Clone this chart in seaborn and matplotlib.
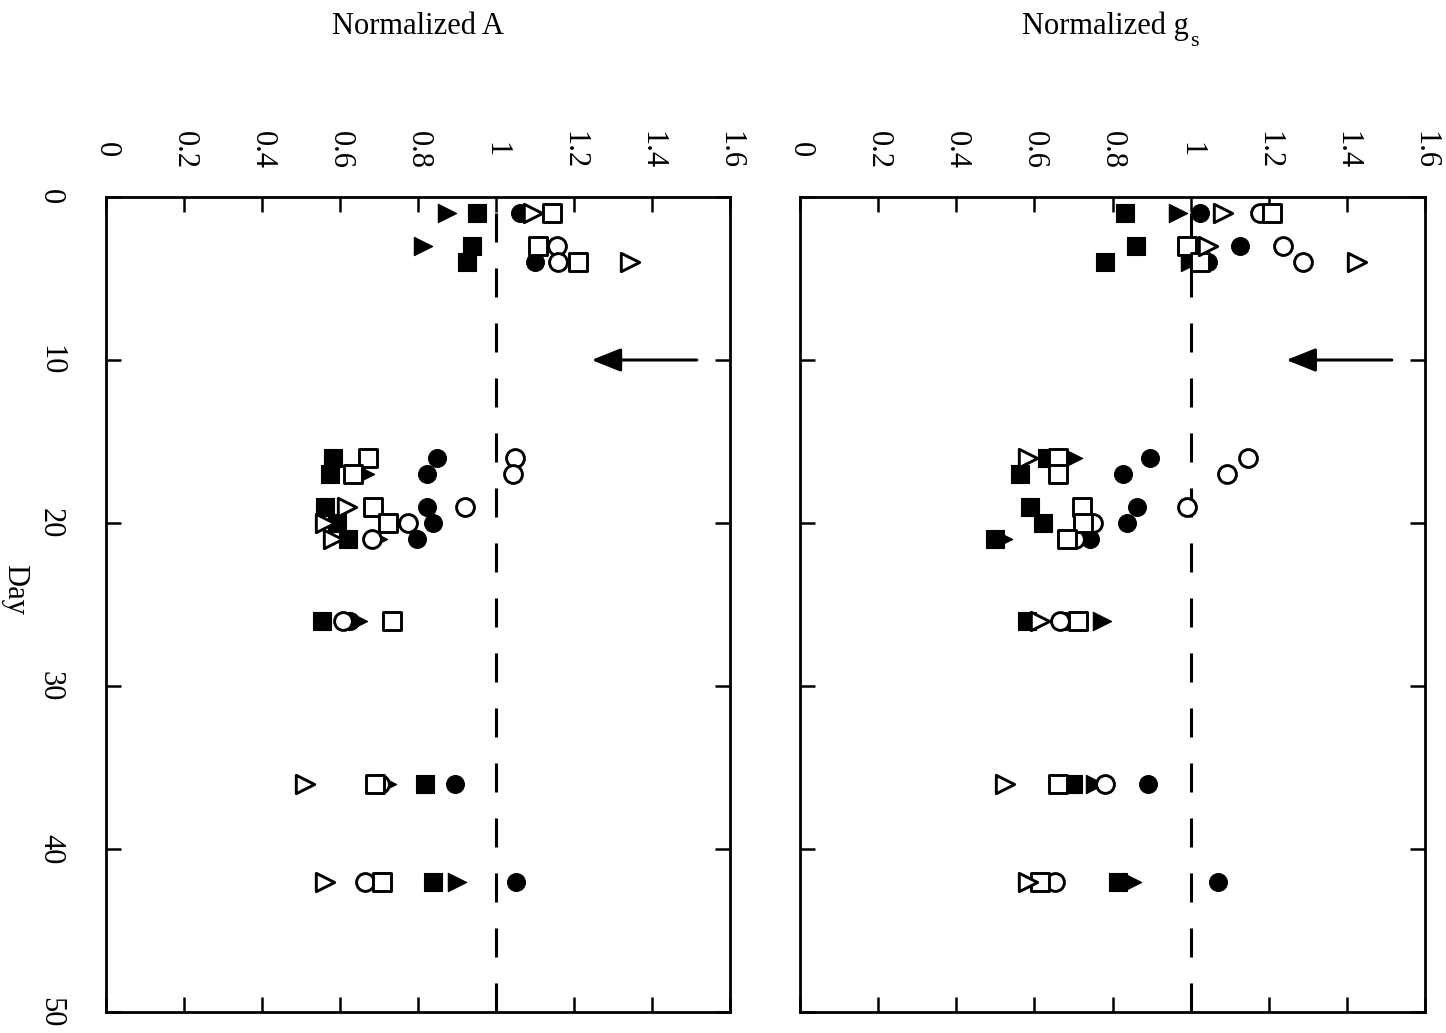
import numpy as np
import pandas as pd
import matplotlib
matplotlib.use("Agg")
import matplotlib.pyplot as plt
import seaborn as sns

nan = np.nan

# ---------------- data ----------------
days = [1, 3, 4, 16, 17, 19, 20, 21, 26, 36, 42]

A_filled_circle = [1.062, nan, 1.100, 0.849, 0.823, 0.823, 0.838, 0.797, 0.626, 0.895, 1.051]
A_open_circle = [nan, 1.156, 1.159, 1.049, 1.044, 0.921, 0.774, 0.682, 0.608, 0.703, 0.664]
A_filled_square = [0.951, 0.938, 0.926, 0.582, 0.574, 0.562, 0.592, 0.621, 0.554, 0.818, 0.838]
A_open_square = [1.144, 1.108, 1.210, 0.672, 0.633, 0.685, 0.723, nan, 0.733, 0.690, 0.708]
A_filled_tri = [0.874, 0.813, nan, nan, 0.664, nan, nan, 0.697, 0.646, 0.720, 0.900]
A_open_tri = [1.095, nan, 1.344, nan, nan, 0.618, 0.562, 0.582, nan, 0.510, 0.562]

G_filled_circle = [1.024, 1.126, 1.045, 0.896, 0.827, 0.863, 0.837, 0.742, 0.678, 0.891, 1.070]
G_open_circle = [1.178, 1.237, 1.288, 1.147, 1.093, 0.991, 0.750, 0.704, 0.666, 0.781, 0.653]
G_filled_square = [0.832, 0.860, 0.781, 0.632, 0.563, 0.589, 0.622, 0.499, 0.581, 0.699, 0.814]
G_open_square = [1.208, 0.991, 1.024, 0.661, 0.661, 0.722, 0.725, 0.684, 0.712, 0.661, 0.614]
G_filled_tri = [0.968, nan, 0.998, 0.699, nan, nan, nan, 0.520, 0.773, 0.755, 0.850]
G_open_tri = [1.083, 1.045, 1.426, 0.584, nan, nan, nan, nan, 0.614, 0.525, 0.584]

value_ticks = [0, 0.2, 0.4, 0.6, 0.8, 1.0, 1.2, 1.4, 1.6]
value_tick_labels = ["0", "0.2", "0.4", "0.6", "0.8", "1", "1.2", "1.4", "1.6"]
day_ticks = [0, 10, 20, 30, 40, 50]
day_tick_labels = ["0", "10", "20", "30", "40", "50"]
treatment_day = 10
reference_level = 1.0

# (series key, marker, filled)
series_styles = [
    ("filled_circle", "o", True),
    ("filled_square", "s", True),
    ("filled_tri", ">", True),
    ("open_circle", "o", False),
    ("open_square", "s", False),
    ("open_tri", ">", False),
]

panel_A = {
    "filled_circle": A_filled_circle, "open_circle": A_open_circle,
    "filled_square": A_filled_square, "open_square": A_open_square,
    "filled_tri": A_filled_tri, "open_tri": A_open_tri,
}
panel_G = {
    "filled_circle": G_filled_circle, "open_circle": G_open_circle,
    "filled_square": G_filled_square, "open_square": G_open_square,
    "filled_tri": G_filled_tri, "open_tri": G_open_tri,
}


def long_frame(panel):
    rows = []
    for key, vals in panel.items():
        for d, v in zip(days, vals):
            if not np.isnan(v):
                rows.append({"day": d, "value": v, "series": key})
    return pd.DataFrame(rows)


# ---------------- style ----------------
sns.set_style("white")
plt.rcParams["font.family"] = ["Liberation Serif", "DejaVu Serif"]
plt.rcParams["mathtext.fontset"] = "custom"
plt.rcParams["mathtext.rm"] = "Liberation Serif"
plt.rcParams["mathtext.it"] = "Liberation Serif:italic"
plt.rcParams["text.color"] = "black"
plt.rcParams["xtick.color"] = "black"
plt.rcParams["ytick.color"] = "black"
plt.rcParams["axes.labelcolor"] = "black"

W, H = 1446, 1033
fig = plt.figure(figsize=(W / 100, H / 100), dpi=100)
fig.patch.set_facecolor("white")

ax_bottom = 1 - 1012 / H
ax_height = 815 / H
axA = fig.add_axes([106 / W, ax_bottom, 624 / W, ax_height])
axG = fig.add_axes([800 / W, ax_bottom, 625 / W, ax_height])

FS = 22


def draw_panel(ax, panel, show_day_labels):
    df = long_frame(panel)
    ax.axvline(reference_level, color="black", lw=2.2, ls=(0, (9.5, 8.5)), zorder=1)
    for key, marker, filled in series_styles:
        sub = df[df["series"] == key]
        if sub.empty:
            continue
        size = 165 if marker != ">" else 175
        sns.scatterplot(
            data=sub, x="value", y="day", marker=marker, s=size,
            color="black" if filled else "white", edgecolor="black",
            linewidth=2.1 if not filled else 0.8, ax=ax, zorder=3, legend=False,
        )
    ax.annotate("", xy=(1.245, treatment_day), xytext=(1.515, treatment_day),
                arrowprops=dict(arrowstyle="-|>,head_length=0.9,head_width=0.36",
                                lw=2.2, color="black", mutation_scale=20,
                                shrinkA=0, shrinkB=0), zorder=4)
    ax.set_xlim(0, 1.6)
    ax.set_ylim(50, 0)
    ax.set_xlabel("")
    ax.set_ylabel("")
    ax.set_xticks(value_ticks)
    ax.set_xticklabels(value_tick_labels)
    ax.set_yticks(day_ticks)
    ax.set_yticklabels(day_tick_labels)
    ax.tick_params(axis="x", top=True, bottom=True, labeltop=True, labelbottom=False,
                   direction="in", length=11, width=1.8, pad=34, labelsize=FS,
                   labelrotation=-90, color="black", labelcolor="black")
    ax.tick_params(axis="y", left=True, right=True, labelleft=show_day_labels,
                   labelright=False, direction="in", length=11, width=1.8,
                   pad=40, labelsize=FS, labelrotation=-90, color="black",
                   labelcolor="black")
    for lbl in ax.get_xticklabels():
        lbl.set_va("center")
        lbl.set_ha("center")
    for lbl in ax.get_yticklabels():
        lbl.set_va("center")
        lbl.set_ha("center")
    for sp in ax.spines.values():
        sp.set_visible(True)
        sp.set_color("black")
        sp.set_linewidth(2.0)


draw_panel(axA, panel_A, True)
draw_panel(axG, panel_G, False)

fig.text(418 / W, 1 - 26 / H, "Normalized A", ha="center", va="center", fontsize=FS,
         color="black")
fig.text(1105 / W, 1 - 26 / H, "Normalized g", ha="center", va="center", fontsize=FS,
         color="black")
fig.text(1190 / W, 1 - 42 / H, "s", ha="left", va="center", fontsize=16, color="black")
fig.text(15 / W, 1 - 590 / H, "Day", rotation=-90, ha="center", va="center", fontsize=FS,
         color="black")

fig.savefig("out.png", dpi=100, facecolor="white")
